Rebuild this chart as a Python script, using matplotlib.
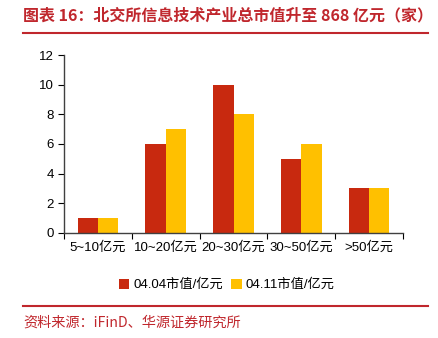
import numpy as np
import matplotlib
matplotlib.use('Agg')
import matplotlib.pyplot as plt
from matplotlib.lines import Line2D

plt.rcParams['font.family'] = ['Liberation Sans', 'Noto Sans CJK SC', 'DejaVu Sans']

categories = ['5~10亿元', '10~20亿元', '20~30亿元', '30~50亿元', '>50亿元']
apr04 = [1, 6, 10, 5, 3]
apr11 = [1, 7, 8, 6, 3]
series_names = ['04.04市值/亿元', '04.11市值/亿元']

red = '#c8290f'
yellow = '#ffc000'
title_red = '#c0272d'

fig = plt.figure(figsize=(4.39, 3.38), dpi=100)
ax = fig.add_axes([0.146, 0.311, 0.772, 0.526])

x = np.arange(len(categories))
w = 0.3
ax.bar(x - w / 2, apr04, w, color=red, label=series_names[0])
ax.bar(x + w / 2, apr11, w, color=yellow, label=series_names[1])

ax.set_xlim(-0.5, len(categories) - 0.5)
ax.set_ylim(0, 12)
ax.set_yticks(range(0, 13, 2))
ax.set_xticks(np.arange(len(categories) + 1) - 0.5, minor=False)
ax.set_xticklabels([])
ax.set_xticks(x, minor=True)
ax.set_xticklabels(categories, minor=True, fontsize=9.5)
ax.tick_params(axis='x', which='minor', length=0, pad=6)
ax.tick_params(axis='x', which='major', length=4, direction='out')
ax.tick_params(axis='y', length=4, labelsize=9.5)
for s in ['top', 'right']:
    ax.spines[s].set_visible(False)
for s in ['left', 'bottom']:
    ax.spines[s].set_color('#404040')
    ax.spines[s].set_linewidth(1)

ax.legend(loc='upper center', bbox_to_anchor=(0.48, -0.19), ncol=2, frameon=False,
          fontsize=9.5, handlelength=0.8, handleheight=0.8, handletextpad=0.3,
          columnspacing=0.6)

fig.text(0.053, 0.955, '图表 16：北交所信息技术产业总市值升至 868 亿元（家）',
         color=title_red, fontsize=11.5, fontweight='bold', va='center', ha='left',
         family=['Noto Sans CJK SC', 'DejaVu Sans'])
fig.add_artist(Line2D([0.052, 0.975], [0.902, 0.902], color=title_red, lw=1.5))
fig.add_artist(Line2D([0.052, 0.975], [0.094, 0.094], color=title_red, lw=1.5))
fig.text(0.053, 0.047, '资料来源：iFinD、华源证券研究所', color=title_red, fontsize=10.2,
         va='center', ha='left', family=['Noto Sans CJK SC', 'DejaVu Sans'])

plt.savefig('out.png', dpi=100)
